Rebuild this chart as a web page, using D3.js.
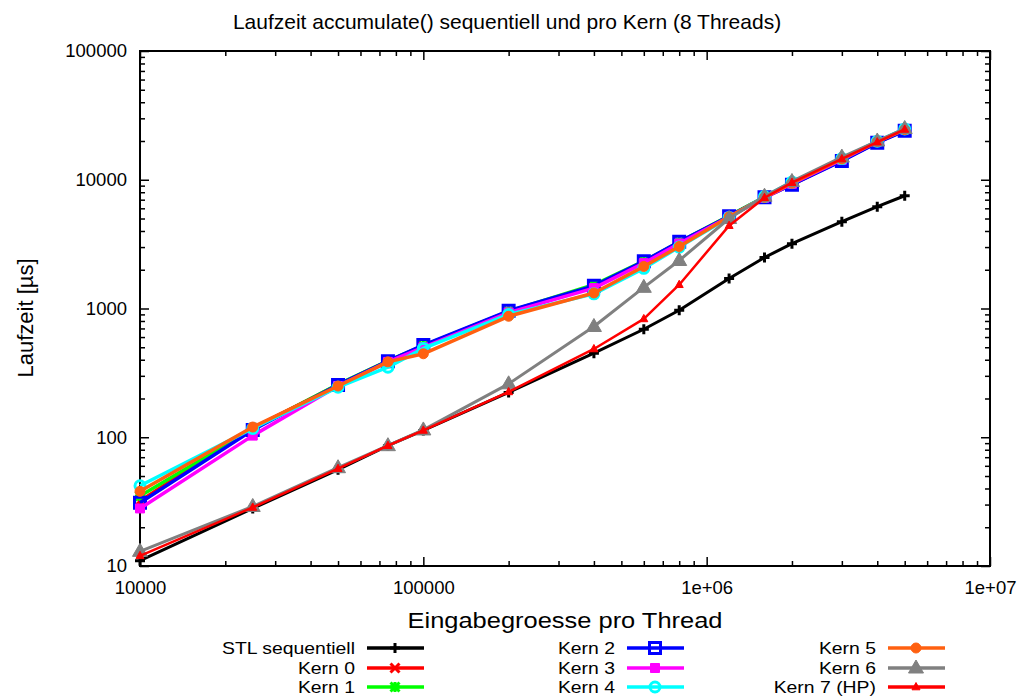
<!DOCTYPE html>
<html>
<head>
<meta charset="utf-8">
<script src="https://cdn.jsdelivr.net/npm/d3@7"></script>
<style>
  body { margin: 0; background: #fff; }
  text { font-family: "Liberation Sans", Arial, sans-serif; fill: #000; }
</style>
</head>
<body>
<svg id="viz"></svg>
<script>
// input sizes (elements per thread)
const sizes = [1e4, 2.5e4, 5e4, 7.5e4, 1e5, 2e5, 4e5, 6e5, 8e5, 1.2e6, 1.6e6, 2e6, 3e6, 4e6, 5e6];

// runtimes in microseconds
const stl   = [11, 28, 56, 86, 113, 223, 450, 690, 970, 1710, 2490, 3190, 4720, 6180, 7510];
const kern0 = [32, 118, 255, 390, 510, 940, 1480, 2300, 3250, 5200, 7300, 9200, 14100, 19500, 24200];
const kern1 = [35, 116, 258, 392, 515, 950, 1530, 2330, 3280, 5250, 7350, 9250, 14200, 19600, 24300];
const kern2 = [31, 114, 255, 390, 520, 960, 1500, 2330, 3300, 5200, 7300, 9150, 14000, 19400, 24000];
const kern3 = [28, 103, 250, 385, 500, 930, 1440, 2250, 3200, 5150, 7250, 9300, 14300, 19800, 24600];
const kern4 = [42, 117, 245, 350, 490, 900, 1300, 2050, 3000, 5100, 7400, 9600, 14600, 19900, 24800];
const kern5 = [38, 120, 250, 385, 445, 870, 1320, 2120, 3030, 5150, 7300, 9400, 14500, 19800, 24500];
const kern6 = [13, 29, 58, 86, 114, 260, 725, 1460, 2360, 5000, 7450, 9700, 15000, 20000, 25000];
const kern7 = [12, 28.5, 57, 86, 113, 225, 485, 830, 1530, 4400, 7250, 9500, 14500, 19600, 24600];

const seriesNames = ['STL sequentiell', 'Kern 0', 'Kern 1', 'Kern 2', 'Kern 3', 'Kern 4', 'Kern 5', 'Kern 6', 'Kern 7 (HP)'];
const xTickLabels = ['10000', '100000', '1e+06', '1e+07'];
const yTickLabels = ['10', '100', '1000', '10000', '100000'];

// ----------------------- SETTINGS
const W = 1021, H = 698;
const margin = { top: 51, right: 31, bottom: 132, left: 140 };
const width = W - margin.left - margin.right,
      height = H - margin.top - margin.bottom;

// colour, marker, line width per series (same order as seriesNames)
const styles = [
  { color: '#000000', mark: 'plus',     lw: 3 },
  { color: '#ff0000', mark: 'times',    lw: 3.5 },
  { color: '#00ff00', mark: 'star',     lw: 3.5 },
  { color: '#0000ff', mark: 'square',   lw: 3.5 },
  { color: '#ff00ff', mark: 'fsquare',  lw: 3.5 },
  { color: '#00ffff', mark: 'circle',   lw: 3.5 },
  { color: '#ff6010', mark: 'fcircle',  lw: 3.5 },
  { color: '#808080', mark: 'ftri',     lw: 3 },
  { color: '#ff0000', mark: 'stri',     lw: 2.5 }
];
const values = [stl, kern0, kern1, kern2, kern3, kern4, kern5, kern6, kern7];

// ----------------------- SCALES
const x = d3.scaleLog().domain([1e4, 1e7]).range([0, width]);
const y = d3.scaleLog().domain([10, 1e5]).range([height, 0]);

const majorX = [1e4, 1e5, 1e6, 1e7];
const majorY = [10, 100, 1000, 1e4, 1e5];
const minors = (dom) => {
  const out = [];
  for (let p = Math.log10(dom[0]); p < Math.log10(dom[1]); p++)
    for (let k = 2; k <= 9; k++) out.push(k * Math.pow(10, p));
  return out;
};

const svg = d3.select('#viz').attr('width', W).attr('height', H);
const chart = svg.append('g').attr('transform', `translate(${margin.left},${margin.top})`);

// ----------------------- AXES
function styleAxis(g) {
  g.select('.domain').remove();
  g.selectAll('.tick line').attr('stroke', '#000').attr('stroke-width', 1.5);
  g.selectAll('.tick text').style('font-size', '18.5px').attr('fill', '#000');
}

// bottom
chart.append('g').attr('transform', `translate(0,${height})`)
  .call(d3.axisBottom(x).tickValues(majorX).tickSizeInner(-9).tickSizeOuter(0).tickPadding(15)
    .tickFormat((d, i) => xTickLabels[i]))
  .call(styleAxis);
chart.append('g').attr('transform', `translate(0,${height})`)
  .call(d3.axisBottom(x).tickValues(minors(x.domain())).tickSizeInner(-5).tickSizeOuter(0).tickFormat(''))
  .call(styleAxis);
// top (mirror)
chart.append('g')
  .call(d3.axisTop(x).tickValues(majorX).tickSizeInner(-9).tickSizeOuter(0).tickFormat(''))
  .call(styleAxis);
chart.append('g')
  .call(d3.axisTop(x).tickValues(minors(x.domain())).tickSizeInner(-5).tickSizeOuter(0).tickFormat(''))
  .call(styleAxis);
// left
chart.append('g')
  .call(d3.axisLeft(y).tickValues(majorY).tickSizeInner(-9).tickSizeOuter(0).tickPadding(13)
    .tickFormat((d, i) => yTickLabels[i]))
  .call(styleAxis);
chart.append('g')
  .call(d3.axisLeft(y).tickValues(minors(y.domain())).tickSizeInner(-5).tickSizeOuter(0).tickFormat(''))
  .call(styleAxis);
// right (mirror)
chart.append('g').attr('transform', `translate(${width},0)`)
  .call(d3.axisRight(y).tickValues(majorY).tickSizeInner(-9).tickSizeOuter(0).tickFormat(''))
  .call(styleAxis);
chart.append('g').attr('transform', `translate(${width},0)`)
  .call(d3.axisRight(y).tickValues(minors(y.domain())).tickSizeInner(-5).tickSizeOuter(0).tickFormat(''))
  .call(styleAxis);

// frame
chart.append('rect')
  .attr('width', width).attr('height', height)
  .attr('fill', 'none').attr('stroke', '#000').attr('stroke-width', 2);

// ----------------------- TITLES
svg.append('text')
  .attr('x', 507).attr('y', 29)
  .attr('text-anchor', 'middle')
  .style('font-size', '21px')
  .text('Laufzeit accumulate() sequentiell und pro Kern (8 Threads)');

svg.append('text')
  .attr('x', margin.left + width / 2).attr('y', 628)
  .attr('text-anchor', 'middle')
  .attr('textLength', 315).attr('lengthAdjust', 'spacingAndGlyphs')
  .style('font-size', '22px')
  .text('Eingabegroesse pro Thread');

svg.append('text')
  .attr('transform', 'translate(33,318) rotate(-90)')
  .attr('text-anchor', 'middle')
  .style('font-size', '22px')
  .text('Laufzeit [\u00b5s]');

// ----------------------- MARKERS
function markerPath(type) {
  switch (type) {
    case 'plus':   return 'M-5,0H5M0,-5V5';
    case 'times':  return 'M-4.5,-4.5L4.5,4.5M-4.5,4.5L4.5,-4.5';
    case 'star':   return 'M-4.5,-4.5L4.5,4.5M-4.5,4.5L4.5,-4.5M-5,0H5M0,-5V5';
    case 'square': return 'M-5.5,-5.5H5.5V5.5H-5.5Z';
    case 'fsquare':return 'M-4.5,-4.5H4.5V4.5H-4.5Z';
    case 'circle': return d3.symbol(d3.symbolCircle, Math.PI * 25)();
    case 'fcircle':return d3.symbol(d3.symbolCircle, Math.PI * 25)();
    case 'ftri':   return 'M0,-8L7.5,5H-7.5Z';
    case 'stri':   return 'M0,-4.5L4,2.8H-4Z';
  }
}
function drawMarker(g, st, cx, cy) {
  const open = ['plus', 'times', 'star', 'square', 'circle'].includes(st.mark);
  g.append('path')
    .attr('d', markerPath(st.mark))
    .attr('transform', `translate(${cx},${cy})`)
    .attr('fill', open ? 'none' : st.color)
    .attr('stroke', st.color)
    .attr('stroke-width', open ? 3 : 1);
}

// ----------------------- SERIES
const line = d3.line().x(d => x(d[0])).y(d => y(d[1]));

values.forEach((vals, i) => {
  const st = styles[i];
  const pts = sizes.map((s, j) => [s, vals[j]]);
  const g = chart.append('g').attr('class', 'series');
  g.append('path')
    .datum(pts)
    .attr('d', line)
    .attr('fill', 'none')
    .attr('stroke', st.color)
    .attr('stroke-width', st.lw)
    .attr('stroke-linejoin', 'round');
  pts.forEach(p => drawMarker(g, st, x(p[0]), y(p[1])));
});

// ----------------------- LEGEND
const legendCols = [355, 615, 876];
const legendRows = [648, 668, 687];
const legend = svg.append('g');
seriesNames.forEach((name, i) => {
  const col = Math.floor(i / 3), row = i % 3;
  const tx = legendCols[col], ty = legendRows[row];
  const st = styles[i];
  const t = legend.append('text')
    .attr('x', tx).attr('y', ty)
    .attr('dy', '0.35em')
    .attr('text-anchor', 'end')
    .style('font-size', '17px')
    .text(name);
  // stretch horizontally so the label keeps the reference width
  const len = t.node().getComputedTextLength();
  t.attr('textLength', len * 1.14).attr('lengthAdjust', 'spacingAndGlyphs');
  legend.append('line')
    .attr('x1', tx + 12).attr('x2', tx + 69)
    .attr('y1', ty).attr('y2', ty)
    .attr('stroke', st.color)
    .attr('stroke-width', 3.5);
  drawMarker(legend, st, tx + 40, ty);
});
</script>
</body>
</html>
